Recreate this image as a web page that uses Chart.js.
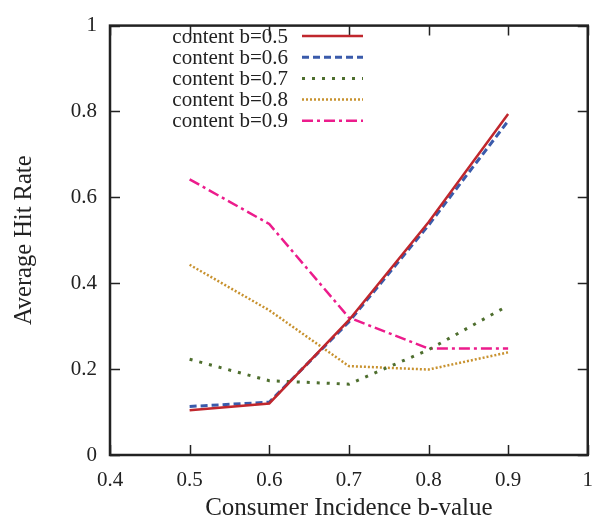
<!DOCTYPE html>
<html>
<head>
<meta charset="utf-8">
<script src="https://cdn.jsdelivr.net/npm/chart.js@4/dist/chart.umd.min.js"></script>
<style>
html,body{margin:0;padding:0;background:#fff;}
#wrap{width:606px;height:524px;position:relative;}
</style>
</head>
<body>
<div id="wrap"><canvas id="c" width="606" height="524"></canvas></div>
<script>
// ---- data ----
const xValues = [0.5, 0.6, 0.7, 0.8, 0.9];
const seriesNames = ["content b=0.5", "content b=0.6", "content b=0.7", "content b=0.8", "content b=0.9"];
const b05 = [0.104, 0.120, 0.314, 0.542, 0.794];
const b06 = [0.113, 0.123, 0.310, 0.535, 0.778];
const b07 = [0.223, 0.173, 0.165, 0.245, 0.348];
const b08 = [0.443, 0.337, 0.207, 0.199, 0.239];
const b09 = [0.642, 0.538, 0.320, 0.248, 0.248];
const xTicks = [0.4, 0.5, 0.6, 0.7, 0.8, 0.9, 1];
const yTicks = [0, 0.2, 0.4, 0.6, 0.8, 1];
const xTitle = "Consumer Incidence b-value";
const yTitle = "Average Hit Rate";

// ---- styles ----
const styles = [
  {color: "#c0272d", width: 2.5, dash: []},
  {color: "#3a5bab", width: 3, dash: [7, 4]},
  {color: "#4e6e2e", width: 3, dash: [3, 7]},
  {color: "#c8922f", width: 2.5, dash: [2, 2]},
  {color: "#ec1c8c", width: 2.5, dash: [11, 4, 3, 4]}
];
const allSeries = [b05, b06, b07, b08, b09];
const FONT = "'Liberation Serif', 'Times New Roman', serif";
const INK = "#222";

const datasets = allSeries.map((vals, i) => ({
  label: seriesNames[i],
  data: xValues.map((x, j) => ({x: x, y: vals[j]})),
  borderColor: styles[i].color,
  backgroundColor: styles[i].color,
  borderWidth: styles[i].width,
  borderDash: styles[i].dash,
  pointRadius: 0,
  tension: 0,
  fill: false
}));

const frameTicks = {
  id: "frameTicks",
  afterDatasetsDraw(chart) {
    const ctx = chart.ctx;
    const a = chart.chartArea;
    const xs = chart.scales.x, ys = chart.scales.y;
    const L = 10;
    ctx.save();
    ctx.strokeStyle = INK;
    ctx.lineWidth = 1.5;
    ctx.setLineDash([]);
    ctx.beginPath();
    xTicks.forEach(v => {
      const px = Math.round(xs.getPixelForValue(v)) + 0.5;
      ctx.moveTo(px, a.bottom); ctx.lineTo(px, a.bottom - L);
      ctx.moveTo(px, a.top); ctx.lineTo(px, a.top + L);
    });
    yTicks.forEach(v => {
      const py = Math.round(ys.getPixelForValue(v)) + 0.5;
      ctx.moveTo(a.left, py); ctx.lineTo(a.left + L, py);
      ctx.moveTo(a.right, py); ctx.lineTo(a.right - L, py);
    });
    ctx.stroke();
    ctx.lineWidth = 2.5;
    ctx.strokeRect(a.left, a.top, a.right - a.left, a.bottom - a.top);
    // legend (gnuplot style: text then sample)
    ctx.font = "21px " + FONT;
    ctx.textAlign = "right";
    ctx.textBaseline = "middle";
    const textRight = 288, lineL = 302, lineR = 363, y0 = 36, dy = 21.2;
    chart.data.datasets.forEach((ds, i) => {
      const y = y0 + i * dy;
      ctx.fillStyle = INK;
      ctx.fillText(ds.label, textRight, y + 1);
      ctx.strokeStyle = ds.borderColor;
      ctx.lineWidth = ds.borderWidth;
      ctx.setLineDash(ds.borderDash);
      ctx.beginPath();
      ctx.moveTo(lineL, y); ctx.lineTo(lineR, y);
      ctx.stroke();
    });
    ctx.restore();
  }
};

new Chart(document.getElementById("c"), {
  type: "line",
  data: {datasets: datasets},
  options: {
    responsive: false,
    animation: false,
    devicePixelRatio: 1,
    layout: {padding: {left: 0, right: 9, top: 14, bottom: 0}},
    plugins: {legend: {display: false}, tooltip: {enabled: false}},
    scales: {
      x: {
        type: "linear",
        min: 0.4, max: 1,
        afterBuildTicks: s => { s.ticks = xTicks.map(v => ({value: v})); },
        afterFit: s => { s.height = 69; },
        grid: {display: false, drawTicks: false},
        border: {display: false},
        ticks: {
          padding: 13,
          color: INK,
          font: {family: FONT, size: 21},
          callback: v => String(v),
          maxRotation: 0, autoSkip: false
        },
        title: {display: true, text: xTitle, color: INK, font: {family: FONT, size: 25}, padding: {top: 0, bottom: 1}}
      },
      y: {
        type: "linear",
        min: 0, max: 1,
        afterBuildTicks: s => { s.ticks = yTicks.map(v => ({value: v})); },
        afterFit: s => { s.width = 110; },
        grid: {display: false, drawTicks: false},
        border: {display: false},
        ticks: {
          padding: 13,
          color: INK,
          font: {family: FONT, size: 21},
          callback: v => String(v)
        },
        title: {display: true, text: yTitle, color: INK, font: {family: FONT, size: 24.5}, padding: {top: 10, bottom: 0}}
      }
    }
  },
  plugins: [frameTicks]
});
</script>
</body>
</html>
